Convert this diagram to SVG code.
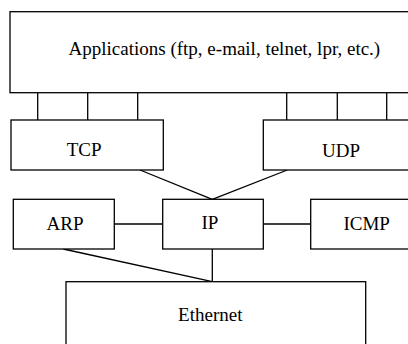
<svg xmlns="http://www.w3.org/2000/svg" width="408" height="344" viewBox="0 0 408 344">
  <style>
    .box { fill: #ffffff; stroke: #000000; stroke-width: 1.3; }
    .lbl { font-family: "Liberation Serif", "Times New Roman", serif; font-size: 19px; fill: #000000; text-anchor: middle; }
    .link { stroke: #000000; stroke-width: 1.3; fill: none; }
  </style>
  <rect width="408" height="344" fill="#ffffff"/>

  <g id="connectors">
    <!-- application ports into TCP and UDP -->
    <line class="link" x1="37.7" y1="92.7" x2="37.7" y2="120"/>
    <line class="link" x1="87.7" y1="92.7" x2="87.7" y2="120"/>
    <line class="link" x1="137.7" y1="92.7" x2="137.7" y2="120"/>
    <line class="link" x1="286.7" y1="92.7" x2="286.7" y2="120"/>
    <line class="link" x1="337.3" y1="92.7" x2="337.3" y2="120"/>
    <line class="link" x1="386.7" y1="92.7" x2="386.7" y2="120"/>
    <!-- transport to IP -->
    <line class="link" x1="140" y1="170" x2="212.3" y2="199.3"/>
    <line class="link" x1="287.3" y1="170" x2="212.3" y2="199.3"/>
    <!-- ARP / ICMP beside IP -->
    <line class="link" x1="114.3" y1="224" x2="162.7" y2="224"/>
    <line class="link" x1="263.3" y1="224" x2="310.7" y2="224"/>
    <!-- down to Ethernet -->
    <line class="link" x1="212.3" y1="249" x2="212.3" y2="281.7"/>
    <line class="link" x1="63.3" y1="249" x2="212.3" y2="281.7"/>
  </g>

  <g id="applications">
    <rect class="box" x="10" y="11.7" width="410" height="81"/>
    <text class="lbl" x="224.4" y="54.7">Applications (ftp, e-mail, telnet, lpr, etc.)</text>
  </g>

  <g id="tcp">
    <rect class="box" x="11" y="120" width="152.3" height="50"/>
    <text class="lbl" x="84.2" y="155.6">TCP</text>
  </g>

  <g id="udp">
    <rect class="box" x="263.3" y="120" width="160" height="50"/>
    <text class="lbl" x="341" y="157">UDP</text>
  </g>

  <g id="arp">
    <rect class="box" x="13.3" y="199.3" width="101" height="49.7"/>
    <text class="lbl" x="65" y="229.6">ARP</text>
  </g>

  <g id="ip">
    <rect class="box" x="162.7" y="199.3" width="100.6" height="49.7"/>
    <text class="lbl" x="210" y="229">IP</text>
  </g>

  <g id="icmp">
    <rect class="box" x="310.7" y="199.3" width="110" height="49.7"/>
    <text class="lbl" x="366.7" y="229.6">ICMP</text>
  </g>

  <g id="ethernet">
    <rect class="box" x="66" y="281.7" width="299.7" height="80"/>
    <text class="lbl" x="210.3" y="320.7">Ethernet</text>
  </g>
</svg>
